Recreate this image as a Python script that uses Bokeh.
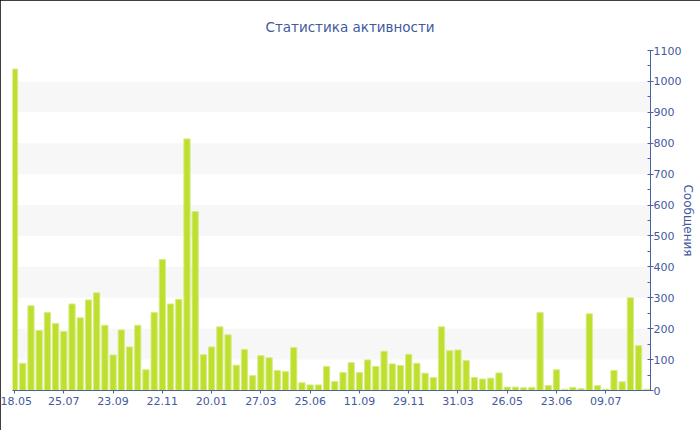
from bokeh.plotting import figure
from bokeh.models import (Range1d, LinearAxis, FixedTicker, SingleIntervalTicker,
                          ColumnDataSource)
from bokeh.embed import file_html
from bokeh.resources import INLINE

# ---- data -------------------------------------------------------------
values = [1040, 88, 274, 194, 252, 217, 191, 280, 235, 293,
          316, 211, 115, 196, 141, 211, 67, 252, 424, 280,
          295, 814, 579, 116, 141, 206, 180, 82, 133, 48,
          113, 106, 65, 61, 139, 25, 18, 18, 78, 29,
          58, 90, 58, 99, 78, 127, 86, 81, 117, 88,
          56, 42, 206, 129, 131, 97, 42, 37, 40, 57,
          11, 11, 9, 10, 252, 16, 67, 4, 10, 6,
          248, 16, 4, 65, 28, 300, 145, 4]
positions = list(range(len(values)))
tick_positions = [0, 6, 12, 18, 24, 30, 36, 42, 48, 54, 60, 66, 72]
tick_labels = ["18.05", "25.07", "23.09", "22.11", "20.01", "27.03", "25.06",
               "11.09", "29.11", "31.03", "26.05", "23.06", "09.07"]
y_ticks_interval = 100
title_text = "Статистика активности"
y_label = "Сообщения"

# ---- style ------------------------------------------------------------
BLUE = "#3F5AA0"
AXIS = "#4A62A5"
BAR = "#BEDF2E"
FONT = "DejaVu Sans"

p = figure(width=700, height=430, output_backend="svg", toolbar_location=None,
           x_range=Range1d(-0.25, 77.45), y_range=Range1d(0, 1100),
           y_axis_location=None, x_axis_location=None,
           min_border_left=12, min_border_right=50, min_border_bottom=40,
           min_border_top=50,
           styles={"outline": "1px solid black", "outline-offset": "-1px"})
p.outline_line_color = None
p.background_fill_color = "white"
p.border_fill_color = "white"

p.title.text = title_text
p.title.align = "left"
p.title.offset = 253
p.title.text_color = BLUE
p.title.text_font = FONT
p.title.text_font_size = "13.5px"
p.title.text_font_style = "normal"
p.title.standoff = 32

src = ColumnDataSource(dict(x=positions, top=values))
p.vbar(x="x", top="top", width=0.76, source=src, fill_color=BAR,
       line_color="#D6EC86", line_width=1)

# x axis
xa = LinearAxis(ticker=FixedTicker(ticks=tick_positions))
xa.major_label_overrides = {t: l for t, l in zip(tick_positions, tick_labels)}
xa.axis_line_color = AXIS
xa.major_tick_line_color = AXIS
xa.major_tick_in = 0
xa.major_tick_out = 3
xa.minor_tick_line_color = None
xa.major_label_text_color = BLUE
xa.major_label_text_font = FONT
xa.major_label_text_font_size = "11px"
xa.major_label_standoff = 3
p.add_layout(xa, "below")

# y axis (right)
ya = LinearAxis(ticker=SingleIntervalTicker(interval=y_ticks_interval, num_minor_ticks=2))
ya.axis_line_color = AXIS
ya.major_tick_line_color = AXIS
ya.minor_tick_line_color = AXIS
ya.major_tick_in = 2
ya.major_tick_out = 3
ya.minor_tick_in = 3
ya.minor_tick_out = 0
ya.major_label_text_color = BLUE
ya.major_label_text_font = FONT
ya.major_label_text_font_size = "11px"
ya.major_label_standoff = 0
ya.axis_label = y_label
ya.axis_label_text_color = BLUE
ya.axis_label_text_font = FONT
ya.axis_label_text_font_size = "12px"
ya.axis_label_text_font_style = "normal"
ya.axis_label_standoff = -3
p.add_layout(ya, "right")

p.xgrid.visible = False
p.ygrid.ticker = ya.ticker
p.ygrid.grid_line_color = None
p.ygrid.band_fill_color = "#F7F7F7"
p.ygrid.band_fill_alpha = 1.0

open("out.html", "w").write(file_html(p, INLINE))
